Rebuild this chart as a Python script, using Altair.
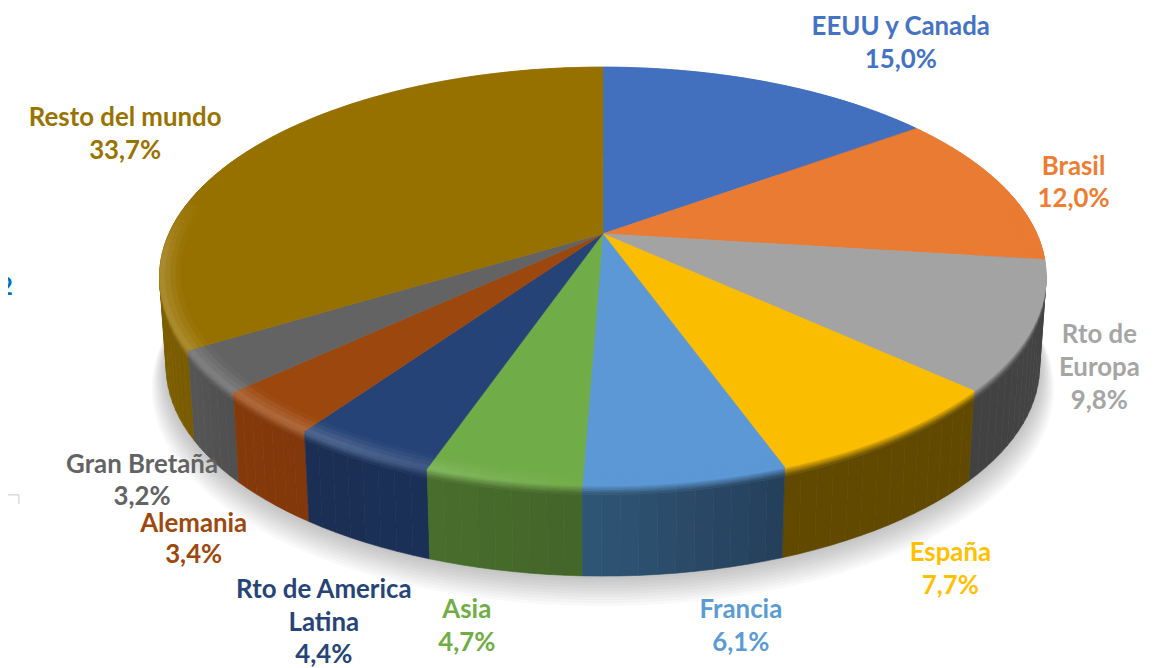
import math
import altair as alt

# ---- chart values
names = ["EEUU y Canada", "Brasil", "Rto de Europa", "España", "Francia", "Asia",
         "Rto de America Latina", "Alemania", "Gran Bretaña", "Resto del mundo"]
shares = [15.0, 12.0, 9.8, 7.7, 6.1, 4.7, 4.4, 3.4, 3.2, 33.7]
face_colors = ["#4270BF", "#EA7B32", "#A3A3A3", "#FBBD00", "#5B98D5", "#70AC47",
               "#254376", "#9C470E", "#636363", "#977100"]
text_colors = ["#4472C4", "#ED7D31", "#A5A5A5", "#FFC000", "#5B9BD5", "#70AD47",
               "#264478", "#9E480E", "#636363", "#997300"]
wall_right = ["#2A4676", "#8A4A1E", "#444444", "#624900", "#243F5A", "#446529",
              "#1B3056", "#82380A", "#505050", "#7A5C00"]
wall_left = ["#2A4676", "#8A4A1E", "#424242", "#624900", "#305676", "#486E2C",
             "#1B2F55", "#84390B", "#555555", "#896800"]

# ---- 3D view of the disc (perspective tilt)
CX, CY, A, B, K, DEPTH = 607.0, 233.0, 202.0, 437.0, 0.204, 91.0
FONT = "Lato"


def hex2rgb(c):
    return [int(c[i:i + 2], 16) for i in (1, 3, 5)]


def mix(a, b, t):
    t = max(0.0, min(1.0, t))
    ra, rb = hex2rgb(a), hex2rgb(b)
    return "#%02x%02x%02x" % tuple(round(x + (y - x) * t) for x, y in zip(ra, rb))


def pt(theta, r=1.0, z=0.0):
    x, y = r * math.sin(theta), r * math.cos(theta)
    w = 1 + K * y
    sx = 1 - 0.015 * z / DEPTH
    return [CX + B * x / w * sx, CY - A * y / w + z]


def poly(ring, fill, opacity=1.0):
    ring = ring + [ring[0]]
    return {"type": "Feature",
            "geometry": {"type": "Polygon", "coordinates": [ring]},
            "properties": {"fill": fill, "op": opacity}}


total = sum(shares)
bounds = [0.0]
for s in shares:
    bounds.append(bounds[-1] + s / total * 2 * math.pi)


def steps(t0, t1, d=math.radians(2)):
    n = max(1, math.ceil((t1 - t0) / d))
    return [t0 + (t1 - t0) * i / n for i in range(n + 1)]


def band(ts, r0, z0, r1, z1):
    return [pt(t, r0, z0) for t in ts] + [pt(t, r1, z1) for t in reversed(ts)]


def hl_weight(t):
    return (max(0.0, min(1.0, -math.sin(t) * 2)) *
            max(0.0, min(1.0, (0.2 - math.cos(t)) / 0.3)))


shadow, walls, strips, faces, inner = [], [], [], [], []

allt = steps(0, 2 * math.pi)
for k in range(1, 11):
    shadow.append(poly([pt(t, 1 + 0.0035 * k, DEPTH + 1.9 * k) for t in allt[:-1]], "#000000", 0.022))

Z_TOP = 9.0
Z_N = 5
R_IN = 0.955
R_N = 4
for i, (t0, t1) in enumerate(zip(bounds[:-1], bounds[1:])):
    ts = steps(t0, t1)
    face = face_colors[i]
    bright = mix(face, "#FFFFFF", 0.2)
    for a, b in zip(ts[:-1], ts[1:]):
        tm = (a + b) / 2
        u = (tm - t0) / (t1 - t0)
        wall = mix(wall_right[i], wall_left[i], u)
        hl = mix(face, bright, hl_weight(tm))
        walls.append((math.cos(tm), poly(band([a, b], 1, Z_TOP, 1, DEPTH), wall)))
        for s in range(Z_N):
            z0, z1 = Z_TOP * s / Z_N, Z_TOP * (s + 1) / Z_N
            strips.append((math.cos(tm), poly(band([a, b], 1, z0, 1, z1), mix(hl, wall, (s + 0.5) / Z_N))))
        if math.cos(tm) < 0.15:
            for s in range(R_N):
                r0, r1 = R_IN + (1 - R_IN) * s / R_N, R_IN + (1 - R_IN) * (s + 1) / R_N
                inner.append(poly(band([a, b], r0, 0, r1, 0), mix(face, hl, (s + 0.5) / R_N)))
    faces.append(poly([[CX, CY]] + [pt(t) for t in ts], face))

walls.sort(key=lambda p: -p[0])
strips.sort(key=lambda p: -p[0])
solid = [p for _, p in walls] + [p for _, p in strips] + faces + inner

identity = dict(type="identity", scale=1, translate=[-8, -8])


def geo(features, with_opacity=False):
    enc = dict(
        fill=alt.Color("properties.fill:N", scale=None),
    )
    if with_opacity:
        enc["fillOpacity"] = alt.Opacity("properties.op:Q", scale=None)
        mark = alt.Chart(alt.Data(values=features)).mark_geoshape(strokeWidth=0)
    else:
        enc["stroke"] = alt.Color("properties.fill:N", scale=None)
        mark = alt.Chart(alt.Data(values=features)).mark_geoshape(strokeWidth=0.6)
    return mark.encode(**enc).project(**identity)


# ---- labels: one text per line
label_lines = [
    (0, "EEUU y Canada", 907, 25), (0, "15,0%", 907, 58),
    (1, "Brasil", 1081, 166), (1, "12,0%", 1081, 198),
    (2, "Rto de", 1107, 335), (2, "Europa", 1107, 368), (2, "9,8%", 1107, 401),
    (3, "España", 957, 555), (3, "7,7%", 957, 588),
    (4, "Francia", 746, 612), (4, "6,1%", 746, 645),
    (5, "Asia", 470, 612), (5, "4,7%", 470, 645),
    (6, "Rto de America", 326, 592), (6, "Latina", 326, 625), (6, "4,4%", 326, 657),
    (7, "Alemania", 195, 525), (7, "3,4%", 195, 557),
    (8, "Gran Bretaña", 143, 466), (8, "3,2%", 143, 498),
    (9, "Resto del mundo", 126, 117), (9, "33,7%", 126, 150),
]


def text(txt, x, y, color, size=26, align="center"):
    return alt.Chart(alt.Data(values=[{"t": txt}])).mark_text(
        font=FONT, fontWeight="bold", fontSize=size, color=color, align=align, baseline="middle"
    ).encode(text="t:N", x=alt.value(x - 8), y=alt.value(y - 8))


layers = [geo(shadow, True), geo(solid)]
for i, txt, x, y in label_lines:
    layers.append(text(txt, x, y, text_colors[i]))
layers.append(text("2", -1, 288, "#0070C0", size=24, align="left"))
layers.append(alt.Chart(alt.Data(values=[{"a": 1}])).mark_rule(color="#C9C9C9", strokeWidth=1).encode(
    x=alt.value(-8), x2=alt.value(11), y=alt.value(488)))
layers.append(alt.Chart(alt.Data(values=[{"a": 1}])).mark_rule(color="#C9C9C9", strokeWidth=1).encode(
    x=alt.value(11), y=alt.value(488), y2=alt.value(497)))

chart = alt.layer(*layers).properties(
    width=1150, height=660, padding=0, autosize=alt.AutoSizeParams(type="none"),
    background="#FFFFFF",
).configure_view(stroke=None)

chart.save("out.html", embed_options={"renderer": "svg", "actions": False})
